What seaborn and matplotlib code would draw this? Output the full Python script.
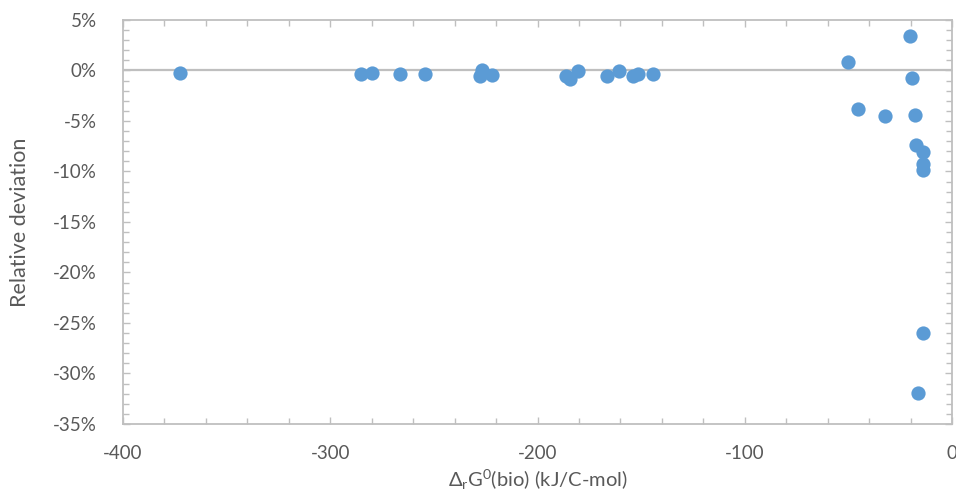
import matplotlib
matplotlib.use("Agg")
import matplotlib.pyplot as plt
import seaborn as sns
import pandas as pd
from matplotlib.ticker import MultipleLocator, FuncFormatter

# Data
delta_g = [-372.5, -285.2, -280.0, -266.3, -254.3, -226.6, -227.7, -222.1,
           -186.3, -184.3, -180.6, -166.6, -160.7, -154.1, -151.7, -144.1,
           -50.3, -20.3, -19.1, -45.5, -32.2, -17.9, -17.2, -14.0, -14.0,
           -14.1, -14.0, -16.4]
rel_dev = [-0.25, -0.38, -0.25, -0.38, -0.38, 0.08, -0.50, -0.45,
           -0.50, -0.85, -0.08, -0.58, -0.02, -0.58, -0.38, -0.35,
           0.82, 3.43, -0.78, -3.80, -4.55, -4.42, -7.40, -8.05, -9.30,
           -9.90, -25.95, -31.90]

x_label = r"$\Delta_{\mathrm{r}}\mathrm{G}^{\mathrm{0}}$(bio) (kJ/C-mol)"
y_label = "Relative deviation"

df = pd.DataFrame({"dg": delta_g, "dev": rel_dev})

sns.set_style("white")
plt.rcParams["font.family"] = ["Lato", "DejaVu Sans"]
plt.rcParams["mathtext.fontset"] = "custom"
plt.rcParams["mathtext.rm"] = "Lato"
plt.rcParams["mathtext.it"] = "Lato:italic"
plt.rcParams["axes.unicode_minus"] = False

fig = plt.figure(figsize=(9.56, 4.96), dpi=100)
ax = fig.add_axes([0.1287, 0.1452, 0.8671, 0.8145])

gray = "#BFBFBF"
txt = "#595959"

ax.axhline(0, color=gray, lw=1.6, zorder=1)

sns.scatterplot(data=df, x="dg", y="dev", ax=ax, color="#5B9BD5",
                s=105, linewidth=0, zorder=3, legend=False)

ax.set_xlim(-400, 0)
ax.set_ylim(-35, 5)
ax.xaxis.set_major_locator(MultipleLocator(100))
ax.xaxis.set_minor_locator(MultipleLocator(20))
ax.yaxis.set_major_locator(MultipleLocator(5))
ax.yaxis.set_minor_locator(MultipleLocator(1))
ax.yaxis.set_major_formatter(FuncFormatter(lambda v, p: f"{v:.0f}%"))
ax.xaxis.set_major_formatter(FuncFormatter(lambda v, p: f"{v:.0f}"))

for s in ax.spines.values():
    s.set_color(gray)
    s.set_linewidth(1.3)

ax.tick_params(which="both", direction="in", color=gray, top=True, right=True,
               bottom=True, left=True)
ax.tick_params(which="major", length=5, width=1, labelsize=13.5, labelcolor=txt)
ax.tick_params(which="minor", length=4, width=1)
ax.tick_params(axis="y", which="major", pad=19)
ax.tick_params(axis="x", which="major", pad=15)

ax.set_xlabel(x_label, fontsize=14.5, color=txt, labelpad=4)
ax.set_ylabel(y_label, fontsize=15.5, color=txt, labelpad=16)

fig.savefig("out.png", dpi=100)
